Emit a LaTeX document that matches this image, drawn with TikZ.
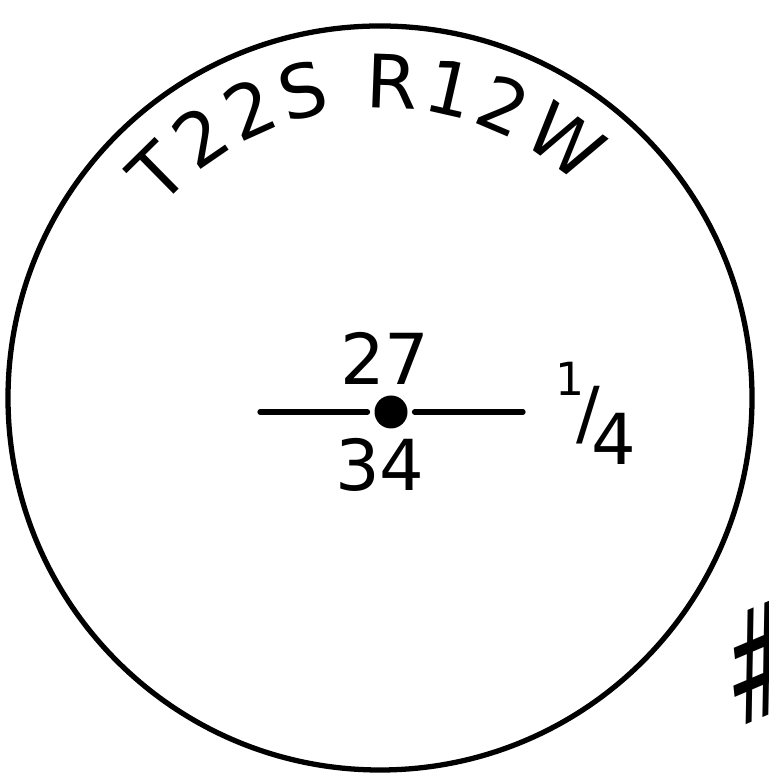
\documentclass[tikz,border=0pt]{standalone}
\usepackage{fontspec}
\setsansfont{DejaVu Sans}
\usetikzlibrary{decorations.text}
\begin{document}
\begin{tikzpicture}[ink/.style={line width=1.5pt, line cap=round}, num/.style={font=\sffamily\fontsize{20}{20}\selectfont, inner sep=0pt}]
        \useasboundingbox (0,0) rectangle (7.68,7.75);
        \coordinate (c) at (3.80,3.77);
        \draw[ink] (c) circle (3.72);

        % township and range along the rim
        \path[decorate, decoration={text along path, text align=fit to path,
            text={|\sffamily\fontsize{21}{21}\selectfont|T22S R12W}}]
            (c) ++(139:2.90) arc (139:47:2.90);

        \node[circle, fill, inner sep=0pt, minimum size=0.33cm, outer sep=0.07cm] (pt) at (3.91,3.63) {};
        \coordinate (lw) at (2.60,3.63);
        \coordinate (le) at (5.23,3.63);
        \draw[ink] (lw) -- (pt) -- (le);

        \node[num] (sec) at (3.85,4.17) {27};
        \node[num] (sec2) at (3.80,3.10) {34};
        \node[num, anchor=west] (frac) at (5.55,3.62) {\raisebox{1.1ex}{\fontsize{13}{13}\selectfont 1}\kern-0.12em/\kern-0.12em\raisebox{-0.7ex}{4}};
        \node[font=\sffamily\fontsize{44}{44}\selectfont, xscale=0.5, rotate=12] (mark) at (7.58,1.12) {\#};
    \end{tikzpicture}
\end{document}
